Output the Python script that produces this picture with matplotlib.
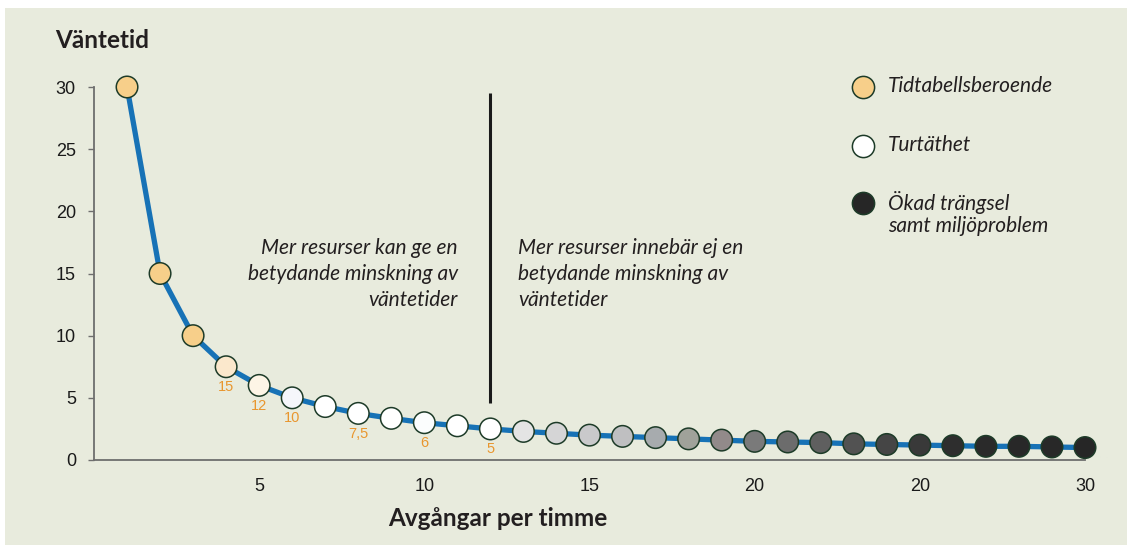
import matplotlib
matplotlib.use("Agg")
import matplotlib.pyplot as plt
from matplotlib.patches import Rectangle

# avgångar per timme och väntetid (minuter)
departures = list(range(1, 31))
wait_time = [30, 15, 10, 7.5, 6, 5, 4.3, 3.75, 3.35, 3, 2.75, 2.5, 2.3, 2.15,
             2, 1.9, 1.8, 1.7, 1.6, 1.5, 1.45, 1.4, 1.3, 1.25, 1.2, 1.15, 1.1,
             1.1, 1.05, 1]
marker_colors = ['#f7cf8a', '#f7cf8a', '#f7cf8a', '#fbe8cc', '#fdf5e6', '#f5f6fb',
                 '#ffffff', '#ffffff', '#ffffff', '#fbfdfd', '#ffffff', '#ffffff',
                 '#e4e4e4', '#d5d5d6', '#c9c9cb', '#bfbfc1', '#a7abae', '#a0a29a',
                 '#928a8a', '#7a7a7a', '#6c6c6c', '#5f5f5f', '#525252', '#454545',
                 '#393939', '#2e2e2e', '#2a2a2a', '#282828', '#282828', '#262626']

# minuter mellan avgångar, visas under vissa punkter
interval_idx = [4, 5, 6, 8, 10, 12]
interval_labels = ['15', '12', '10', '7,5', '6', '5']

xtick_pos = [5, 10, 15, 20, 25, 30]
xtick_labels = ['5', '10', '15', '20', '20', '30']
ytick_pos = [0, 5, 10, 15, 20, 25, 30]

legend_labels = ['Tidtabellsberoende', 'Turtäthet', 'Ökad trängsel\nsamt miljöproblem']
legend_colors = ['#f7cf8a', '#ffffff', '#262626']

bg = '#e8ebdd'
edge = '#1d3b28'
title_font = 'Lato'

fig = plt.figure(figsize=(11.32, 5.53), dpi=100)
fig.patch.set_facecolor('white')
fig.patches.append(Rectangle((5 / 1132, 8 / 553), 1 - 10 / 1132, 1 - 16 / 553,
                             transform=fig.transFigure, facecolor=bg,
                             edgecolor='none', zorder=-10))

ax = fig.add_axes([94 / 1132, 1 - 460 / 553, (1085 - 94) / 1132, (460 - 87) / 553])
ax.set_facecolor('none')
ax.set_xlim(0, 30)
ax.set_ylim(0, 30)

ax.plot(departures, wait_time, color='#1772b6', linewidth=3.8, zorder=2,
        solid_capstyle='round', clip_on=False)
ax.scatter(departures, wait_time, s=15.5 ** 2, c=marker_colors, edgecolors=edge,
           linewidths=1.1, zorder=3, clip_on=False)

for n, lab in zip(interval_idx, interval_labels):
    ax.annotate(lab, (n, wait_time[n - 1]), xytext=(0, -14.5), textcoords='offset points',
                ha='center', va='center', fontsize=10.5, color='#e8962e',
                family='Liberation Sans')

ax.vlines(12, 4.6, 29.5, color='#1a1a1a', linewidth=2.2, zorder=1)

for s in ['top', 'right']:
    ax.spines[s].set_visible(False)
for s in ['left', 'bottom']:
    ax.spines[s].set_color('#6e6e6e')
    ax.spines[s].set_linewidth(1.3)

ax.set_xticks(xtick_pos)
ax.set_xticklabels(xtick_labels)
ax.set_yticks(ytick_pos)
ax.tick_params(axis='x', length=0, pad=13, labelsize=13, labelcolor='#1a1a1a')
ax.tick_params(axis='y', length=4, width=1, color='#6e6e6e', pad=9,
               labelsize=13, labelcolor='#1a1a1a')
for t in ax.get_xticklabels() + ax.get_yticklabels():
    t.set_family('Liberation Sans')

fig.text(55 / 1132, 1 - 41 / 553, 'Väntetid', ha='left', va='center',
         fontsize=17.5, fontweight='bold', family=title_font, color='#231f20')
fig.text(498 / 1132, 1 - 519 / 553, 'Avgångar per timme', ha='center', va='center',
         fontsize=17.5, fontweight='bold', family=title_font, color='#231f20')

left_text = 'Mer resurser kan ge en\nbetydande minskning av\nväntetider'
right_text = 'Mer resurser innebär ej en\nbetydande minskning av\nväntetider'
fig.text(458 / 1132, 1 - 274 / 553, left_text, ha='right', va='center',
         fontsize=15, style='italic', family=title_font, color='#231f20',
         linespacing=1.37, multialignment='right')
fig.text(518 / 1132, 1 - 274 / 553, right_text, ha='left', va='center',
         fontsize=15, style='italic', family=title_font, color='#231f20',
         linespacing=1.37, multialignment='left')

legend_y = [87, 146, 203]
for lab, col, yy in zip(legend_labels, legend_colors, legend_y):
    fig.lines.append(plt.Line2D([863 / 1132], [1 - yy / 553], marker='o',
                                markersize=16, markerfacecolor=col,
                                markeredgecolor=edge, markeredgewidth=1.1,
                                transform=fig.transFigure, linestyle='none'))
    fig.text(888 / 1132, 1 - (yy - 1) / 553, lab, ha='left', va='center',
             fontsize=15, style='italic', family=title_font, color='#231f20',
             linespacing=1.1)
# den tredje etiketten ska börja i höjd med cirkeln
fig.texts[-1].set_va('top')
fig.texts[-1].set_y(1 - 191 / 553)

fig.savefig('out.png', dpi=100, facecolor='white')
